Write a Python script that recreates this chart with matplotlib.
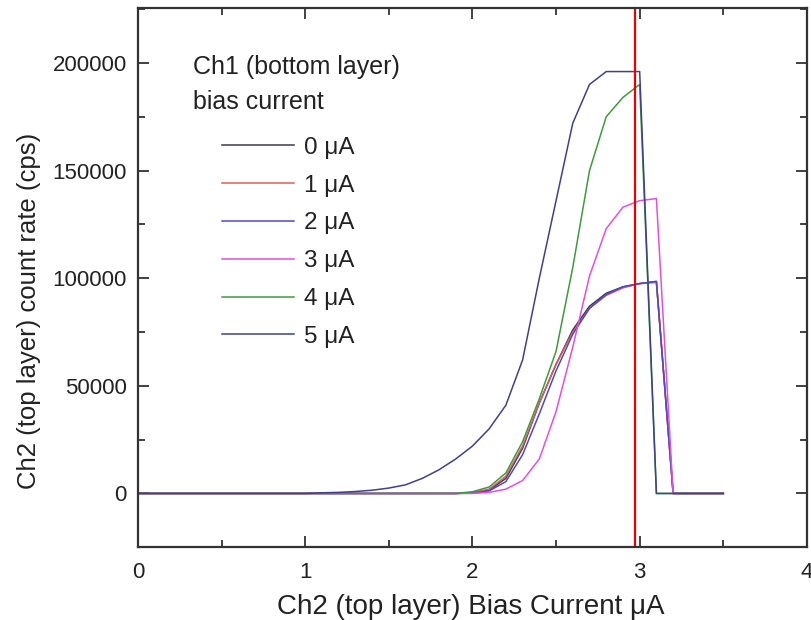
import matplotlib
matplotlib.use("Agg")
import matplotlib.pyplot as plt
from matplotlib.ticker import MultipleLocator

plt.rcParams['font.family'] = ['Liberation Sans', 'DejaVu Sans']

x = [0.0, 0.1, 0.2, 0.3, 0.4, 0.5, 0.6, 0.7, 0.8, 0.9, 1.0, 1.1, 1.2, 1.3, 1.4, 1.5,
     1.6, 1.7, 1.8, 1.9, 2.0, 2.1, 2.2, 2.3, 2.4, 2.5, 2.6, 2.7, 2.8, 2.9, 3.0, 3.1,
     3.2, 3.3, 3.4, 3.5]

z11 = [0] * 11
ch1_0uA = z11 + [0, 0, 0, 0, 0, 0, 0, 0, 0, 300, 1500, 7000, 21000, 42000, 60000,
                 76000, 87000, 93000, 96000, 97500, 98500, 0, 0, 0, 0]
ch1_1uA = z11 + [0, 0, 0, 0, 0, 0, 0, 0, 0, 400, 2000, 8000, 22000, 42000, 60000,
                 75000, 86000, 92000, 95500, 97500, 98000, 0, 0, 0, 0]
ch1_2uA = z11 + [0, 0, 0, 0, 0, 0, 0, 0, 0, 200, 1200, 5500, 18000, 37000, 57000,
                 74000, 86000, 92500, 96000, 97500, 98500, 0, 0, 0, 0]
ch1_3uA = z11 + [0, 0, 0, 0, 0, 0, 0, 0, 0, 0, 500, 2000, 6000, 16000, 38000,
                 68000, 101000, 123000, 133000, 136000, 137000, 0, 0, 0, 0]
ch1_4uA = z11 + [0, 0, 0, 0, 0, 0, 0, 0, 0, 800, 3000, 9500, 24000, 44000, 66000,
                 105000, 150000, 175000, 184000, 190000, 0, 0, 0, 0, 0]
ch1_5uA = z11 + [300, 500, 900, 1500, 2500, 4000, 7000, 11000, 16000, 22000, 30000,
                 41000, 62000, 100000, 136000, 172000, 190000, 196000, 196000,
                 196000, 0, 0, 0, 0, 0]

labels = ["0 \u03bcA", "1 \u03bcA", "2 \u03bcA", "3 \u03bcA", "4 \u03bcA", "5 \u03bcA"]
series = [ch1_0uA, ch1_1uA, ch1_2uA, ch1_3uA, ch1_4uA, ch1_5uA]
colors = ["#3a3a4a", "#e05a5a", "#4a4ad0", "#e050e0", "#3c9c3c", "#40408c"]

marker_x = 2.97

fig = plt.figure(figsize=(8.11, 6.2), dpi=100)
ax = fig.add_axes([0.170, 0.118, 0.825, 0.869])

for ys, c, lab in zip(series, colors, labels):
    ax.plot(x, ys, color=c, lw=1.1, label=lab)

ax.axvline(marker_x, color="#ee0000", lw=1.6)

ax.set_xlim(0, 4)
ax.set_ylim(-24800, 225500)
ax.xaxis.set_major_locator(MultipleLocator(1))
ax.xaxis.set_minor_locator(MultipleLocator(0.5))
ax.yaxis.set_major_locator(MultipleLocator(50000))
ax.yaxis.set_minor_locator(MultipleLocator(25000))
ax.tick_params(which="both", direction="in", top=True, right=True,
               color="#333333", labelsize=16, labelcolor="#222222")
ax.tick_params(which="major", length=8, width=1.3, pad=8)
ax.tick_params(axis="x", which="major", pad=11)
ax.tick_params(which="minor", length=5, width=1.3)
for s in ax.spines.values():
    s.set_linewidth(1.6)
    s.set_color("#333333")

ax.set_xlabel("Ch2 (top layer) Bias Current \u03bcA", fontsize=20, color="#222222")
ax.set_ylabel("Ch2 (top layer) count rate (cps)", fontsize=18.5, color="#222222")
ax.xaxis.set_label_coords(0.497, -0.088)
ax.yaxis.set_label_coords(-0.145, 0.438)

ax.text(0.082, 0.891, "Ch1 (bottom layer)", transform=ax.transAxes, fontsize=18,
        va="center", ha="left", color="#222222")
ax.text(0.082, 0.826, "bias current", transform=ax.transAxes, fontsize=18,
        va="center", ha="left", color="#222222")

leg = ax.legend(loc="upper left", bbox_to_anchor=(0.125, 0.761), frameon=False,
                fontsize=17.5, handlelength=3.0, handletextpad=0.4,
                labelspacing=0.65, borderpad=0, borderaxespad=0)
for t in leg.get_texts():
    t.set_color("#222222")

fig.savefig("out.png", dpi=100)
